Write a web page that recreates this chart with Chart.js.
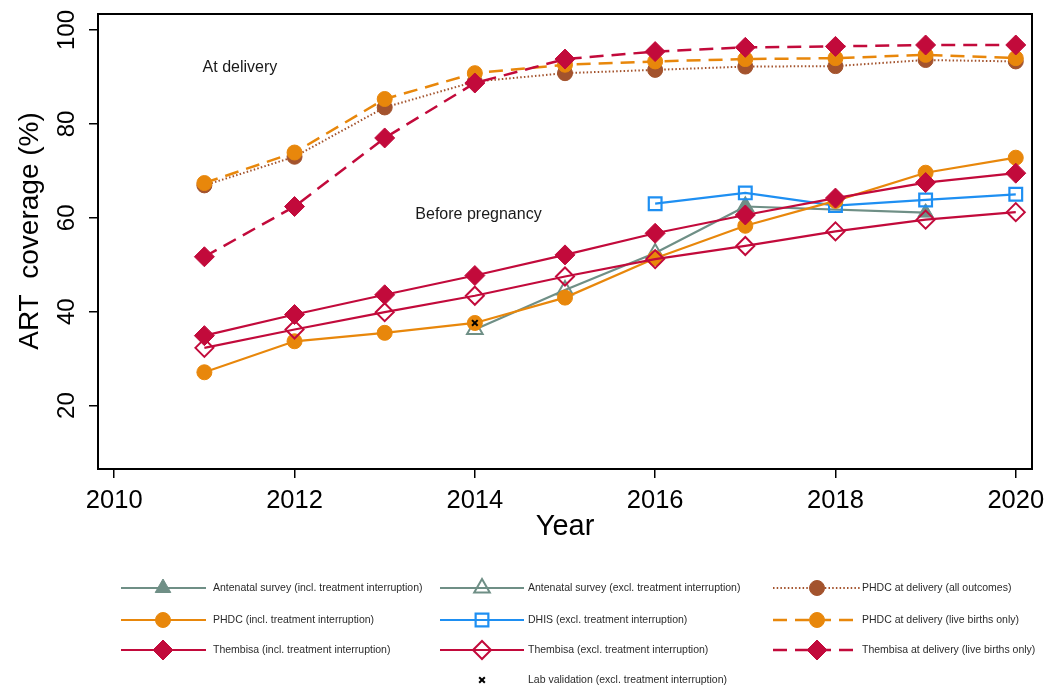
<!DOCTYPE html>
<html>
<head>
<meta charset="utf-8">
<script src="https://cdn.jsdelivr.net/npm/chart.js@4/dist/chart.umd.min.js"></script>
<style>
  html, body { margin: 0; padding: 0; background: #fff; }
  #wrap { width: 1060px; height: 686px; }
</style>
</head>
<body>
<div id="wrap"><canvas id="c" width="1060" height="686"></canvas></div>
<script>
// ---- data ----
const years = [2011, 2012, 2013, 2014, 2015, 2016, 2017, 2018, 2019, 2020];

const antenatalIncl    = [null, null, null, null, null, null, 62.4, null, 61.1, null];
const antenatalExcl    = [null, null, null, 36.2, 44.6, 52.5, 62.4, null, null, null];
const phdcDeliveryAll  = [66.9, 73.0, 83.5, 89.0, 90.8, 91.5, 92.2, 92.3, 93.6, 93.3];
const phdcIncl         = [27.1, 33.7, 35.5, 37.6, 43.0, 51.4, 58.3, 63.6, 69.6, 72.8];
const dhisExcl         = [null, null, null, null, null, 63.0, 65.3, 62.6, 63.8, 65.0];
const phdcDeliveryLive = [67.4, 73.9, 85.3, 90.8, 92.6, 93.3, 93.8, 94.0, 94.7, 94.0];
const thembisaIncl     = [34.9, 39.4, 43.6, 47.7, 52.1, 56.7, 60.6, 64.2, 67.5, 69.5];
const thembisaExcl     = [32.3, 36.2, 39.9, 43.4, 47.5, 51.2, 54.0, 57.1, 59.6, 61.2];
const thembisaDelivery = [51.7, 62.4, 77.0, 88.7, 93.8, 95.4, 96.3, 96.5, 96.8, 96.8];
const labValidation    = [null, null, null, 37.6, null, null, null, null, null, null];

const xTickValues = [2010, 2012, 2014, 2016, 2018, 2020];
const yTickValues = [20, 40, 60, 80, 100];

const seriesLabels = [
  'Antenatal survey (incl. treatment interruption)',
  'Antenatal survey (excl. treatment interruption)',
  'PHDC at delivery (all outcomes)',
  'PHDC (incl. treatment interruption)',
  'DHIS (excl. treatment interruption)',
  'PHDC at delivery (live births only)',
  'Thembisa (incl. treatment interruption)',
  'Thembisa (excl. treatment interruption)',
  'Thembisa at delivery (live births only)',
  'Lab validation (excl. treatment interruption)'
];

const annotations = [
  { text: 'At delivery', x: 2010.98, y: 91.9 },
  { text: 'Before pregnancy', x: 2013.34, y: 60.6 }
];

// ---- styling ----
const FONT = "'Liberation Sans', Arial, Helvetica, sans-serif";
const RED = '#c20a3b';
const ORANGE = '#e8870b';
const BROWN = '#a3532d';
const BLUE = '#1e8ff2';
const GREEN = '#6f8f86';
const NONE = 'rgba(0,0,0,0)';

const pts = arr => years.map((yr, i) => ({ x: yr, y: arr[i] }));

function series(label, values, s) {
  return Object.assign({
    label: label,
    data: pts(values),
    borderWidth: 2.2,
    pointBorderWidth: 1,
    pointHoverRadius: s.pointRadius,
    fill: false,
    tension: 0,
    spanGaps: false,
    clip: false
  }, s);
}

const datasets = [
  series(seriesLabels[0], antenatalIncl, { borderColor: GREEN, backgroundColor: GREEN, pointStyle: 'triangle', pointRadius: 9, pointBackgroundColor: GREEN, pointBorderColor: GREEN, spanGaps: true, order: 9 }),
  series(seriesLabels[1], antenatalExcl, { borderColor: GREEN, backgroundColor: NONE, pointStyle: 'triangle', pointRadius: 9, pointBackgroundColor: NONE, pointBorderColor: GREEN, pointBorderWidth: 2, order: 8 }),
  series(seriesLabels[2], phdcDeliveryAll, { borderColor: BROWN, backgroundColor: BROWN, borderDash: [1.5, 2.2], borderWidth: 2, pointStyle: 'circle', pointRadius: 7.5, pointBackgroundColor: BROWN, pointBorderColor: BROWN, order: 3 }),
  series(seriesLabels[3], phdcIncl, { borderColor: ORANGE, backgroundColor: ORANGE, pointStyle: 'circle', pointRadius: 7.5, pointBackgroundColor: ORANGE, pointBorderColor: ORANGE, order: 6 }),
  series(seriesLabels[4], dhisExcl, { borderColor: BLUE, backgroundColor: NONE, pointStyle: 'rect', pointRadius: 9, pointBackgroundColor: NONE, pointBorderColor: BLUE, pointBorderWidth: 2.2, order: 7 }),
  series(seriesLabels[5], phdcDeliveryLive, { borderColor: ORANGE, backgroundColor: ORANGE, borderDash: [14, 8], borderWidth: 2.5, pointStyle: 'circle', pointRadius: 7.5, pointBackgroundColor: ORANGE, pointBorderColor: ORANGE, order: 2 }),
  series(seriesLabels[6], thembisaIncl, { borderColor: RED, backgroundColor: RED, pointStyle: 'rectRot', pointRadius: 10, pointBackgroundColor: RED, pointBorderColor: RED, order: 4 }),
  series(seriesLabels[7], thembisaExcl, { borderColor: RED, backgroundColor: NONE, pointStyle: 'rectRot', pointRadius: 9, pointBackgroundColor: NONE, pointBorderColor: RED, pointBorderWidth: 2, order: 5 }),
  series(seriesLabels[8], thembisaDelivery, { borderColor: RED, backgroundColor: RED, borderDash: [14, 8], borderWidth: 2.5, pointStyle: 'rectRot', pointRadius: 10, pointBackgroundColor: RED, pointBorderColor: RED, order: 1 }),
  series(seriesLabels[9], labValidation, { borderColor: '#000', backgroundColor: '#000', showLine: false, pointStyle: 'crossRot', pointRadius: 4, pointBackgroundColor: '#000', pointBorderColor: '#000', pointBorderWidth: 2, order: 0 })
];

// legend grid: [column, row] for each dataset, in dataset order
const legendSlots = [[0, 0], [1, 0], [2, 0], [0, 1], [1, 1], [2, 1], [0, 2], [1, 2], [2, 2], [1, 3]];
const legendColumns = [
  { from: 121, to: 206, mark: 163, text: 213 },
  { from: 440, to: 524, mark: 482, text: 528 },
  { from: 773, to: 861, mark: 817, text: 862 }
];
const legendRows = [588, 620, 650, 680];

function drawMarker(ctx, ds, x, y) {
  const opts = {
    pointStyle: ds.pointStyle,
    rotation: 0,
    radius: ds.pointRadius,
    borderWidth: ds.pointBorderWidth
  };
  ctx.save();
  ctx.setLineDash([]);
  ctx.fillStyle = ds.pointBackgroundColor;
  ctx.strokeStyle = ds.pointBorderColor;
  ctx.lineWidth = ds.pointBorderWidth;
  Chart.helpers.drawPoint(ctx, opts, x, y);
  ctx.restore();
}

const decorPlugin = {
  id: 'decor',
  beforeDatasetsDraw(chart) {
    const { ctx, chartArea: a } = chart;
    ctx.save();
    ctx.strokeStyle = '#000';
    ctx.lineWidth = 2;
    ctx.strokeRect(a.left, a.top, a.right - a.left, a.bottom - a.top);
    ctx.restore();
  },
  afterDraw(chart) {
    const { ctx } = chart;
    const xs = chart.scales.x, ys = chart.scales.y;
    ctx.save();

    // y tick labels, rotated
    ctx.fillStyle = '#000';
    ctx.font = '24px ' + FONT;
    ctx.textAlign = 'center';
    ctx.textBaseline = 'middle';
    ys.ticks.forEach(t => {
      const py = ys.getPixelForValue(t.value);
      ctx.save();
      ctx.translate(67, py);
      ctx.rotate(-Math.PI / 2);
      ctx.fillText(String(t.value), 0, 0);
      ctx.restore();
    });

    // y axis title
    ctx.font = '28px ' + FONT;
    ctx.save();
    ctx.translate(30, 231);
    ctx.rotate(-Math.PI / 2);
    ctx.fillText('ART  coverage (%)', 0, 0);
    ctx.restore();

    // in-plot labels
    ctx.font = '16px ' + FONT;
    ctx.fillStyle = '#1a1a1a';
    ctx.textAlign = 'left';
    annotations.forEach(n => {
      ctx.fillText(n.text, xs.getPixelForValue(n.x), ys.getPixelForValue(n.y));
    });

    // legend
    ctx.font = '10.5px ' + FONT;
    chart.data.datasets.forEach((ds, i) => {
      const [c, r] = legendSlots[i];
      const col = legendColumns[c];
      const y = legendRows[r];
      if (ds.showLine !== false) {
        ctx.save();
        ctx.strokeStyle = ds.borderColor;
        ctx.lineWidth = ds.borderWidth;
        ctx.setLineDash(ds.borderDash || []);
        ctx.beginPath();
        ctx.moveTo(col.from, y);
        ctx.lineTo(col.to, y);
        ctx.stroke();
        ctx.restore();
      }
      drawMarker(ctx, ds, col.mark, y);
      ctx.fillStyle = '#2b2b2b';
      ctx.textAlign = 'left';
      ctx.textBaseline = 'middle';
      ctx.fillText(ds.label, col.text, y);
    });
    ctx.restore();
  }
};

const axisGrid = { display: true, drawOnChartArea: false, drawTicks: true, tickLength: 9, color: '#000', lineWidth: 1.5 };
const axisBorder = { display: true, color: '#000', width: 2 };

new Chart(document.getElementById('c'), {
  type: 'line',
  data: { datasets: datasets },
  options: {
    responsive: false,
    animation: false,
    events: [],
    layout: { padding: { left: 0, top: 14, right: 28, bottom: 142 } },
    plugins: { legend: { display: false }, tooltip: { enabled: false } },
    scales: {
      x: {
        type: 'linear',
        min: 2009.82,
        max: 2020.18,
        afterBuildTicks: s => { s.ticks = xTickValues.map(v => ({ value: v })); },
        afterFit: s => { s.height = 75; },
        ticks: { color: '#000', font: { size: 25.5, family: FONT }, padding: 8, maxRotation: 0, autoSkip: false, callback: v => String(v) },
        grid: axisGrid,
        border: axisBorder,
        title: { display: true, text: 'Year', color: '#000', font: { size: 29, family: FONT }, padding: 0 }
      },
      y: {
        type: 'linear',
        min: 6.5,
        max: 103.4,
        afterBuildTicks: s => { s.ticks = yTickValues.map(v => ({ value: v })); },
        afterFit: s => { s.width = 98; },
        ticks: { display: false },
        grid: axisGrid,
        border: axisBorder
      }
    }
  },
  plugins: [decorPlugin]
});
</script>
</body>
</html>
